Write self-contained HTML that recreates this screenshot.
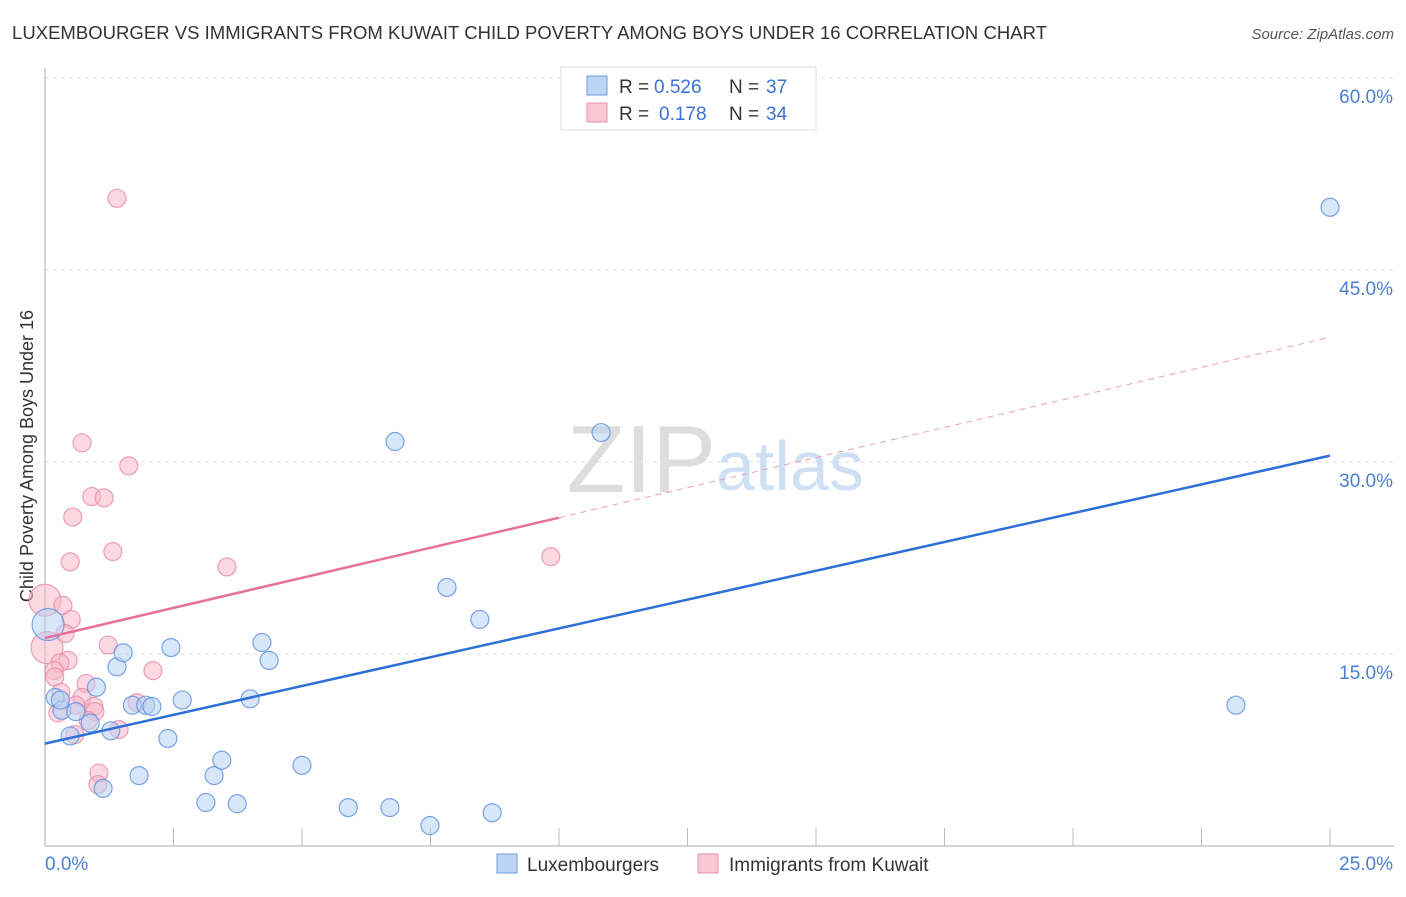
<!DOCTYPE html>
<html><head><meta charset="utf-8"><style>
body{margin:0;background:#fff;font-family:"Liberation Sans",sans-serif;}
svg text{font-family:"Liberation Sans",sans-serif;}
</style></head><body>
<svg id="chart" width="1406" height="892" xmlns="http://www.w3.org/2000/svg">
<text x="12" y="39" font-size="18.5" fill="#333" textLength="1035">LUXEMBOURGER VS IMMIGRANTS FROM KUWAIT CHILD POVERTY AMONG BOYS UNDER 16 CORRELATION CHART</text>
<text x="1394" y="39" font-size="15" fill="#555" font-style="italic" text-anchor="end">Source: ZipAtlas.com</text>
<text x="33" y="456" font-size="18" fill="#333" text-anchor="middle" transform="rotate(-90 33 456)">Child Poverty Among Boys Under 16</text>
<g id="grid"></g>
<text x="716" y="492" font-size="96" fill="#ddd" text-anchor="end" font-family="Liberation Serif">ZIP</text>
<text x="716" y="490" font-size="70" fill="#cfe0f5">atlas</text>
<g id="marks"></g>
<g>
<rect x="561" y="67" width="255" height="63" fill="#fff" stroke="#ddd"/>
<rect x="587" y="76" width="20" height="19" fill="#bcd5f5" stroke="#6b9ae0"/>
<rect x="587" y="103" width="20" height="19" fill="#f9c6d5" stroke="#e890ab"/>
<text x="619" y="93" font-size="19" fill="#333">R =</text>
<text x="654" y="93" font-size="19" fill="#3a72d6">0.526</text>
<text x="729" y="93" font-size="19" fill="#333">N =</text>
<text x="766" y="93" font-size="19" fill="#3a72d6">37</text>
<text x="619" y="120" font-size="19" fill="#333">R =</text>
<text x="659" y="120" font-size="19" fill="#3a72d6">0.178</text>
<text x="729" y="120" font-size="19" fill="#333">N =</text>
<text x="766" y="120" font-size="19" fill="#3a72d6">34</text>
</g>
<g>
<rect x="497" y="854" width="20" height="19" fill="#bcd5f5" stroke="#6b9ae0"/>
<text x="527" y="871" font-size="19" fill="#333">Luxembourgers</text>
<rect x="698" y="854" width="20" height="19" fill="#f9c6d5" stroke="#e890ab"/>
<text x="729" y="871" font-size="19" fill="#333">Immigrants from Kuwait</text>
</g>
</svg>
<script>
const blueX=[0.06,0.2,0.33,0.49,0.6,0.88,1.0,1.13,1.28,1.4,1.52,1.83,1.7,1.96,2.08,2.39,2.45,2.67,3.13,3.29,3.44,3.74,3.99,4.22,4.36,5.0,5.9,6.71,6.81,7.49,7.82,8.46,8.7,10.82,23.17,25.0,0.3];
const blueY=[17.3,11.6,10.6,8.6,10.5,9.6,12.4,4.5,9.0,14.0,15.1,5.5,11.0,11.0,10.9,8.4,15.5,11.4,3.4,5.5,6.7,3.3,11.5,15.9,14.5,6.3,3.0,3.0,31.6,1.6,20.2,17.7,2.6,32.3,11.0,49.9,11.4];
const pinkX=[0,0.04,1.4,0.72,1.63,0.91,1.15,0.54,1.32,0.49,3.54,9.84,0.35,0.51,0.39,1.23,0.45,0.29,0.18,0.19,2.1,0.8,0.31,0.72,0.95,0.6,0.25,0.97,0.84,1.79,1.44,0.58,1.05,1.03];
const pinkY=[19.2,15.5,50.6,31.5,29.7,27.3,27.2,25.7,23.0,22.2,21.8,22.6,18.8,17.7,16.6,15.7,14.5,14.3,13.7,13.2,13.7,12.7,12.0,11.6,10.9,11.0,10.4,10.5,9.8,11.2,9.1,8.7,5.7,4.8];
const blueTrend=[8.0,30.5];   // y at x=0 and x=25
const pinkTrend=[16.25,39.75];
const pinkSolidEnd=10;
const yTicks=[15,30,45,60];
const yTickLabels=["15.0%","30.0%","45.0%","60.0%"];
const xTickLabels=["0.0%","25.0%"];
const X0=45,X1=1330,Y0=846,PXPER=192/15;
const sx=v=>X0+(X1-X0)*v/25, sy=v=>Y0-v*PXPER;
const NS="http://www.w3.org/2000/svg";
const grid=document.getElementById('grid'),marks=document.getElementById('marks');
function mk(p,tag,a){const e=document.createElementNS(NS,tag);for(const k in a)e.setAttribute(k,a[k]);p.appendChild(e);return e;}
let ax=mk(grid,'line',{x1:45,y1:68,x2:45,y2:846,stroke:'#aaa'});


let bx=mk(grid,'line',{x1:45,y1:846,x2:1394,y2:846,stroke:'#aaa'});


for(let i=1;i<=10;i++){const t=mk(grid,'line',{x1:sx(i*2.5),y1:828,x2:sx(i*2.5),y2:846,stroke:'#bbb'});

}
yTicks.forEach((v,i)=>{const g=mk(grid,'line',{x1:45,y1:sy(v),x2:1394,y2:sy(v),stroke:'#ddd','stroke-dasharray':'4,4'});


const t=mk(grid,'text',{x:1393,y:sy(v)+25,'font-size':19,fill:'#4a7fd4','text-anchor':'end'});t.textContent=yTickLabels[i];

});
xTickLabels.forEach((s,i)=>{const t=mk(grid,'text',{x:i?1393:45,y:870,'font-size':19,fill:'#4a7fd4','text-anchor':i?'end':'start'});t.textContent=s;

});
function dots(xs,ys,fill,stroke,name,bigIdx){xs.forEach((x,i)=>{const c=mk(marks,'circle',{cx:sx(x),cy:sy(ys[i]),r:bigIdx.includes(i)?16:9,fill:fill,'fill-opacity':0.55,stroke:stroke,'stroke-opacity':0.8,'stroke-width':1.2});

});}
dots(pinkX,pinkY,'#f7b8cb','#e88aa8','kuwait-point',[0,1]);
dots(blueX,blueY,'#b7d1f3','#5b8fdd','luxembourger-point',[0]);
const pl=t=>pinkTrend[0]+(pinkTrend[1]-pinkTrend[0])*t/25;
let l1=mk(marks,'line',{x1:sx(0),y1:sy(pl(0)),x2:sx(pinkSolidEnd),y2:sy(pl(pinkSolidEnd)),stroke:'#e8709a','stroke-width':2.5});


let l2=mk(marks,'line',{x1:sx(pinkSolidEnd),y1:sy(pl(pinkSolidEnd)),x2:sx(25),y2:sy(pl(25)),stroke:'#e8a0b8','stroke-width':1,'stroke-dasharray':'6,5'});


let l3=mk(marks,'line',{x1:sx(0),y1:sy(blueTrend[0]),x2:sx(25),y2:sy(blueTrend[1]),stroke:'#2c6fd6','stroke-width':2.5});


</script>
</body></html>
